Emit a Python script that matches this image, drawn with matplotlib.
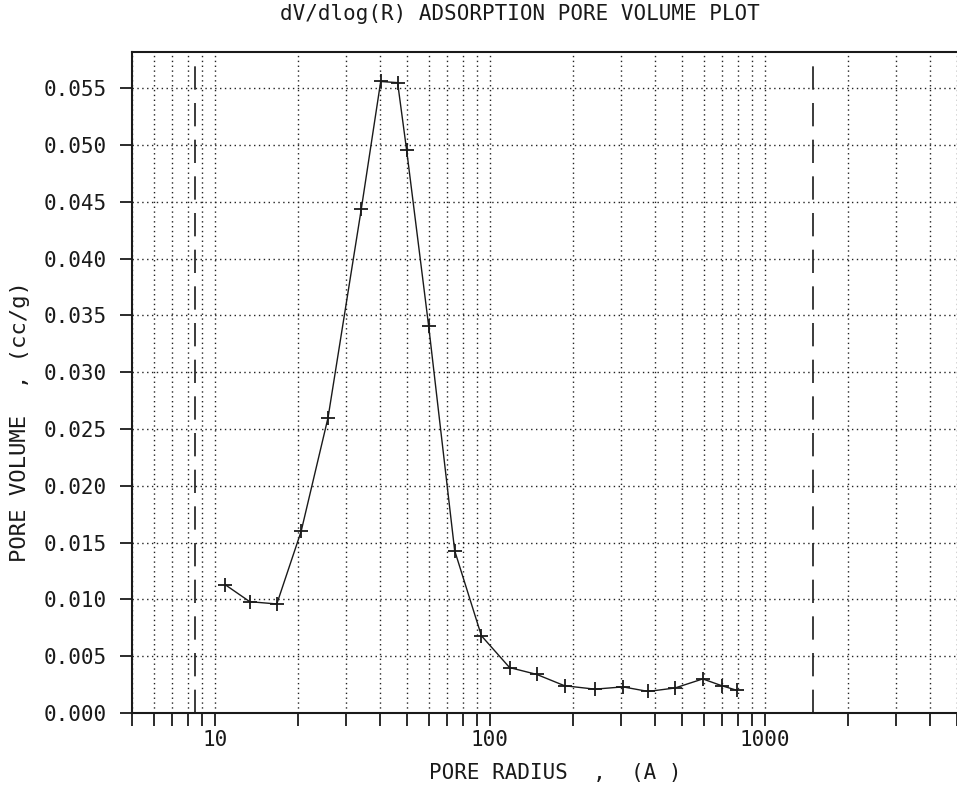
import numpy as np
import matplotlib
matplotlib.use("Agg")
import matplotlib.pyplot as plt
from matplotlib.ticker import FixedLocator, FixedFormatter, NullFormatter

# values
radius = [10.9, 13.4, 16.8, 20.6, 25.8, 34.1, 40.1, 46.2, 49.8, 59.9, 74.5,
          93.2, 118, 148, 187, 241, 305, 376, 471, 595, 698, 791]
dv_dlogr = [0.0113, 0.0098, 0.0096, 0.0160, 0.0260, 0.0444, 0.0556, 0.0555,
            0.0496, 0.0341, 0.0143, 0.0068, 0.0040, 0.0034, 0.0024, 0.0021,
            0.0023, 0.0019, 0.0022, 0.0030, 0.0024, 0.0020]

x_major = [10, 100, 1000]
x_major_labels = ["10", "100", "1000"]
x_minor = [5, 6, 7, 8, 9, 20, 30, 40, 50, 60, 70, 80, 90,
           200, 300, 400, 500, 600, 700, 800, 900, 2000, 3000, 4000, 5000]
y_ticks = [0.000, 0.005, 0.010, 0.015, 0.020, 0.025, 0.030,
           0.035, 0.040, 0.045, 0.050, 0.055]
dashed_limits = [8.5, 1500]

FONT = "DejaVu Sans Mono"
INK = "#1a1a1a"


def setup_axes(ax):
    ax.set_xscale("log")
    ax.set_xlim(5, 5000)
    ax.set_ylim(0, 0.0582)

    ax.xaxis.set_major_locator(FixedLocator(x_major))
    ax.xaxis.set_major_formatter(FixedFormatter(x_major_labels))
    ax.xaxis.set_minor_locator(FixedLocator(x_minor))
    ax.xaxis.set_minor_formatter(NullFormatter())
    ax.yaxis.set_major_locator(FixedLocator(y_ticks))
    ax.yaxis.set_major_formatter(FixedFormatter(["%.3f" % v for v in y_ticks]))

    ax.tick_params(axis="x", which="both", direction="out", length=9.5,
                   width=1.3, pad=3, labelsize=15, colors=INK)
    ax.tick_params(axis="y", which="major", direction="out", length=8.5,
                   width=1.3, pad=10, labelsize=15, colors=INK)
    for lab in ax.get_xticklabels() + ax.get_yticklabels():
        lab.set_family(FONT)

    # dotted plotter grid on every decade step
    ax.grid(True, which="both", axis="x", color="#222222",
            linestyle=(0, (1, 2.5)), linewidth=1.0)
    ax.grid(True, which="major", axis="y", color="#222222",
            linestyle=(0, (1, 2.5)), linewidth=1.0)

    for side in ["left", "top", "bottom"]:
        ax.spines[side].set_linewidth(1.5)
        ax.spines[side].set_color(INK)
    ax.spines["right"].set_visible(False)


def plot_curve(ax):
    for xv in dashed_limits:
        ax.axvline(xv, color=INK, linewidth=1.2, linestyle=(0, (14, 8)))
    ax.plot(radius, dv_dlogr, color=INK, linewidth=1.0,
            marker="+", markersize=10, markeredgewidth=1.3)


fig = plt.figure(figsize=(9.57, 7.91), dpi=100)
ax = fig.add_axes([0.138, 0.0986, 0.862, 0.8357])
setup_axes(ax)
plot_curve(ax)

fig.text(520 / 957, 1 - 14 / 791, "dV/dlog(R) ADSORPTION PORE VOLUME PLOT",
         family=FONT, fontsize=15, ha="center", va="center", color=INK)
fig.text(555 / 957, 1 - 773 / 791, "PORE RADIUS  ,  (A )",
         family=FONT, fontsize=15, ha="center", va="center", color=INK)
fig.text(20 / 957, 1 - 422 / 791, "PORE VOLUME  , (cc/g)",
         family=FONT, fontsize=16, ha="center", va="center", rotation=90,
         color=INK)

plt.savefig("out.png", dpi=100)
